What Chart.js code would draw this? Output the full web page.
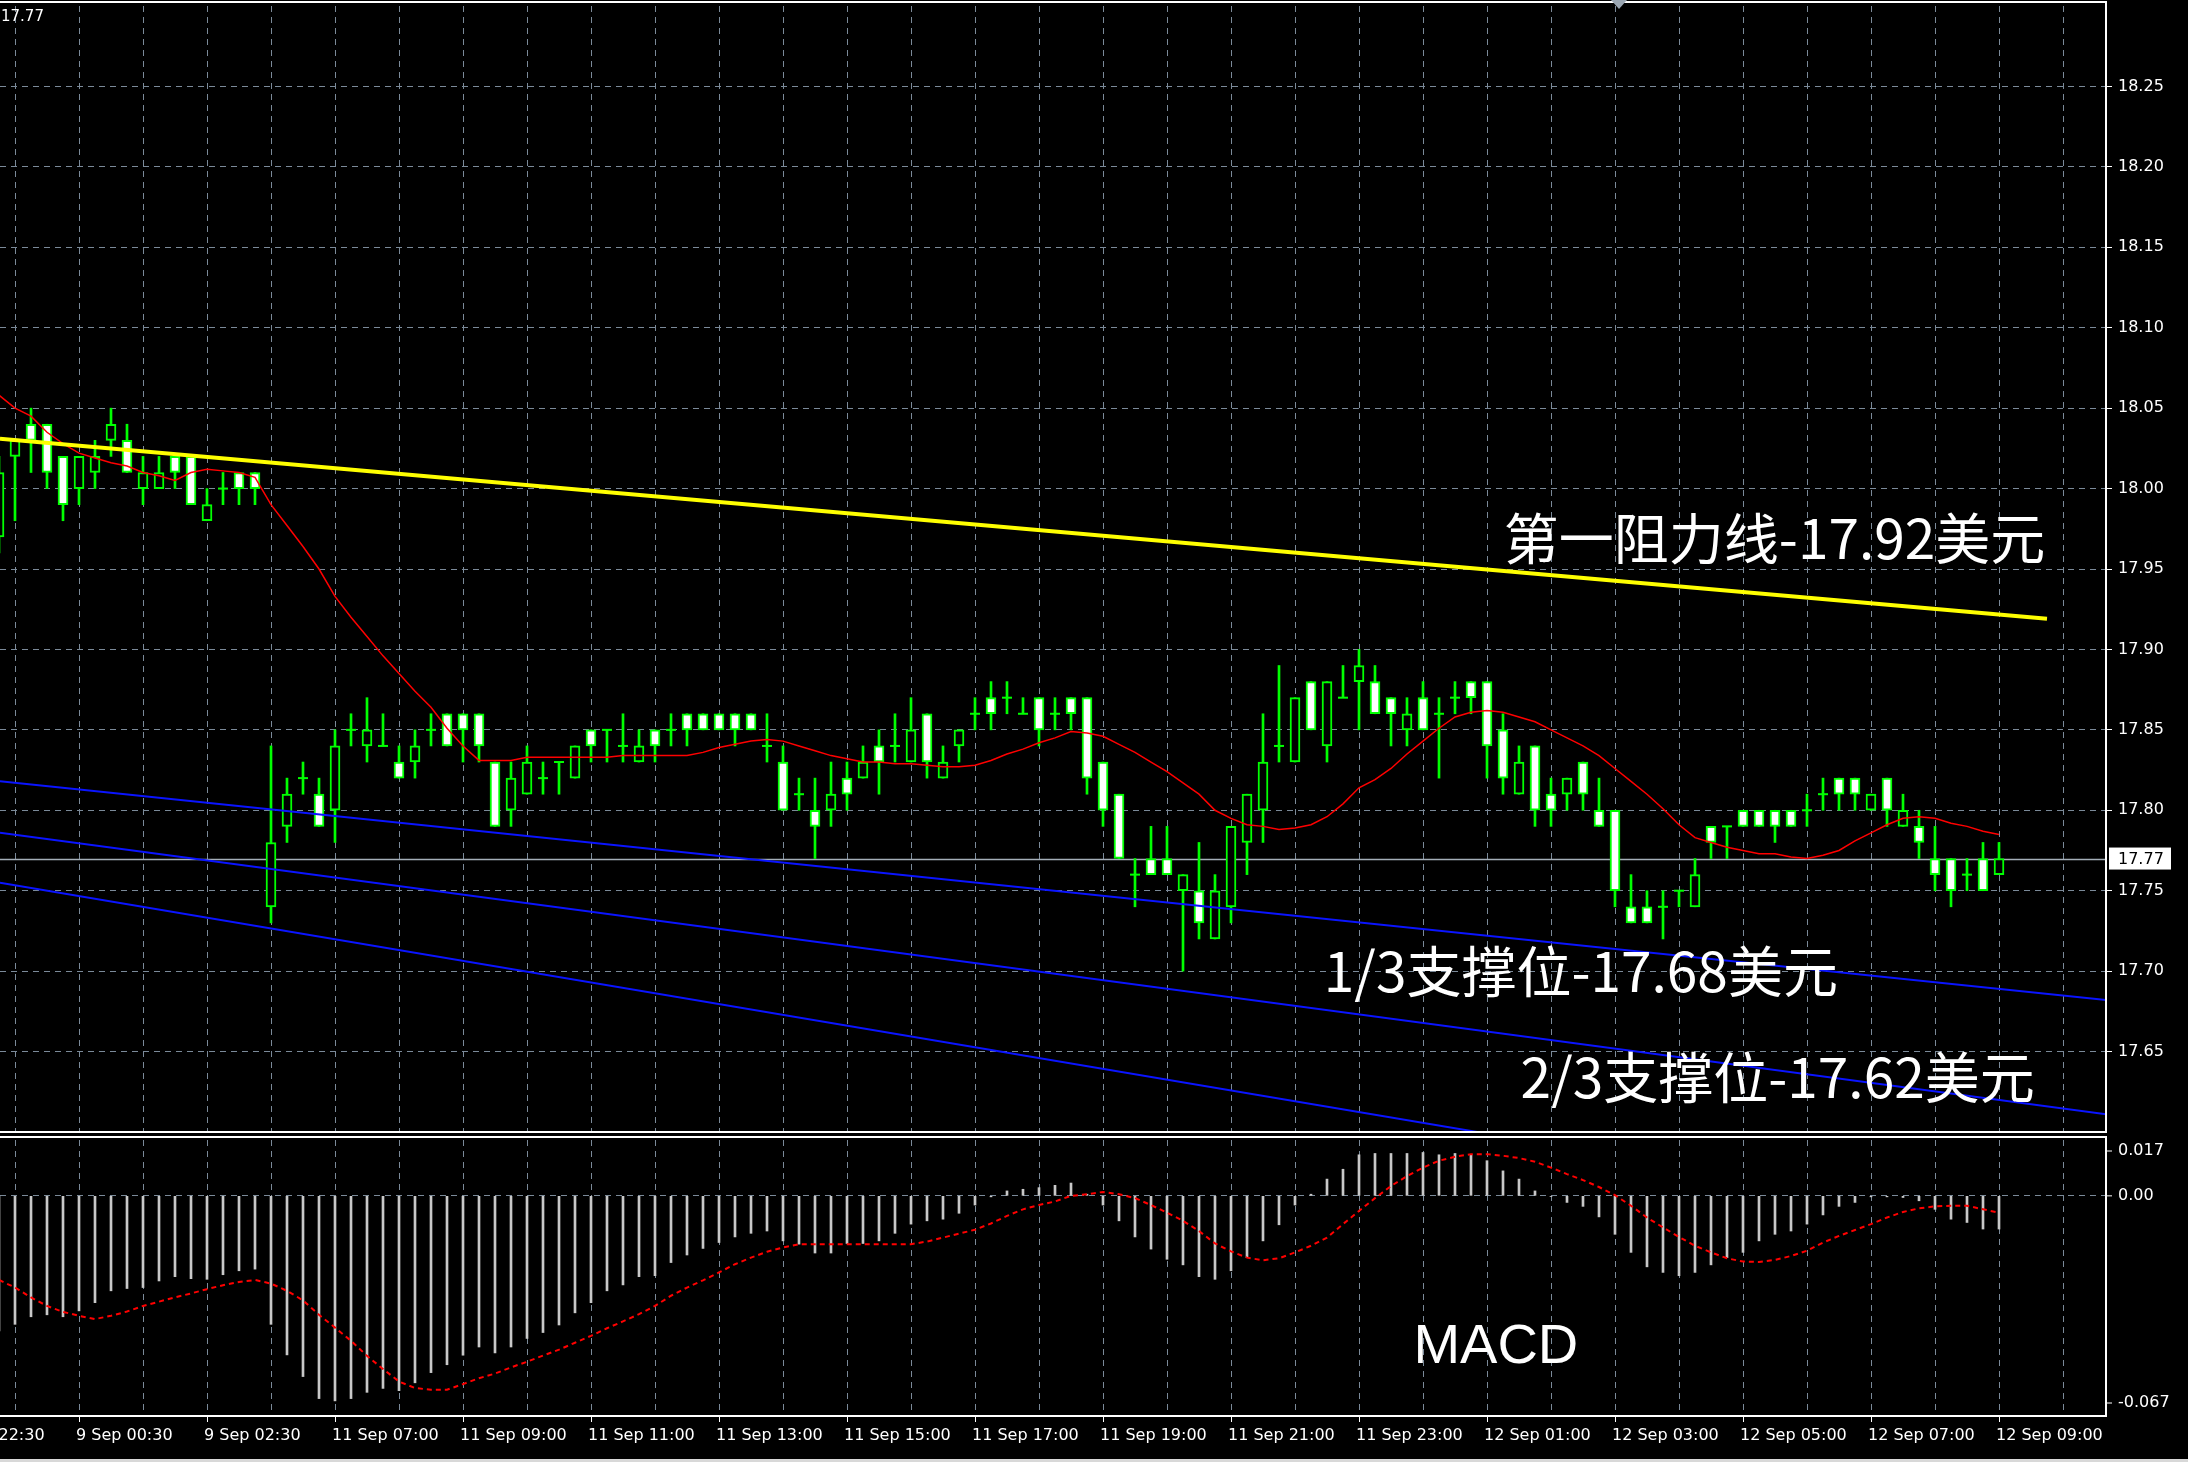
<!DOCTYPE html>
<html>
<head>
<meta charset="utf-8">
<title>XAG 15m</title>
<script src="https://cdn.jsdelivr.net/npm/chart.js@4.4.0/dist/chart.umd.min.js"></script>
<style>
  body { margin: 0; background: #000; width: 2188px; height: 1462px; overflow: hidden; position: relative; }
  #price-chart { position: absolute; left: 0; top: 0; }
  #macd-chart { position: absolute; left: 0; top: 1134px; }
  #edge { position: absolute; left: 0; top: 1459px; width: 2188px; height: 3px; background: #d8d8d8; }
</style>
</head>
<body>
<canvas id="price-chart" width="2188" height="1135"></canvas>
<canvas id="macd-chart" width="2188" height="328"></canvas>
<div id="edge"></div>
<script>
// bar numbers: first bar is -1 (half cut off at the left edge), last bar is 124
const FIRST_BAR = -1;

// time axis labels, one every 8 bars starting at bar -4
const timeLabels = [
    '8 Sep 22:30', '9 Sep 00:30', '9 Sep 02:30', '11 Sep 07:00', '11 Sep 09:00',
    '11 Sep 11:00', '11 Sep 13:00', '11 Sep 15:00', '11 Sep 17:00', '11 Sep 19:00',
    '11 Sep 21:00', '11 Sep 23:00', '12 Sep 01:00', '12 Sep 03:00', '12 Sep 05:00',
    '12 Sep 07:00', '12 Sep 09:00'
];

const openPrices = [
    17.97,
    18.02, 18.04, 18.04, 18.02, 18.00, 18.01, 18.03, 18.03, 18.00, 18.00,
    18.02, 18.02, 17.98, 18.00, 18.01, 18.01, 17.74, 17.79, 17.82, 17.81,
    17.80, 17.85, 17.84, 17.84, 17.83, 17.83, 17.85, 17.86, 17.86, 17.86,
    17.83, 17.80, 17.81, 17.82, 17.83, 17.82, 17.85, 17.85, 17.84, 17.83,
    17.85, 17.85, 17.86, 17.86, 17.86, 17.86, 17.86, 17.84, 17.83, 17.81,
    17.80, 17.80, 17.82, 17.82, 17.84, 17.84, 17.83, 17.86, 17.82, 17.84,
    17.86, 17.87, 17.87, 17.86, 17.87, 17.86, 17.87, 17.87, 17.83, 17.81,
    17.76, 17.77, 17.77, 17.75, 17.75, 17.72, 17.74, 17.78, 17.80, 17.84,
    17.83, 17.88, 17.84, 17.87, 17.88, 17.88, 17.87, 17.85, 17.87, 17.86,
    17.87, 17.88, 17.88, 17.85, 17.81, 17.84, 17.81, 17.81, 17.83, 17.80,
    17.80, 17.74, 17.74, 17.74, 17.75, 17.74, 17.79, 17.79, 17.80, 17.80,
    17.80, 17.80, 17.80, 17.81, 17.82, 17.82, 17.80, 17.82, 17.79, 17.79,
    17.77, 17.77, 17.76, 17.77, 17.76
];
const highPrices = [
    18.02,
    18.03, 18.05, 18.04, 18.02, 18.02, 18.03, 18.05, 18.04, 18.02, 18.02,
    18.02, 18.02, 18.00, 18.01, 18.01, 18.01, 17.84, 17.82, 17.83, 17.82,
    17.85, 17.86, 17.87, 17.86, 17.84, 17.85, 17.86, 17.86, 17.86, 17.86,
    17.83, 17.83, 17.84, 17.83, 17.83, 17.84, 17.85, 17.85, 17.86, 17.85,
    17.85, 17.86, 17.86, 17.86, 17.86, 17.86, 17.86, 17.86, 17.84, 17.82,
    17.82, 17.83, 17.83, 17.84, 17.85, 17.86, 17.87, 17.86, 17.84, 17.85,
    17.87, 17.88, 17.88, 17.87, 17.87, 17.87, 17.87, 17.87, 17.83, 17.81,
    17.77, 17.79, 17.79, 17.76, 17.78, 17.76, 17.79, 17.81, 17.86, 17.89,
    17.87, 17.88, 17.88, 17.89, 17.90, 17.89, 17.87, 17.87, 17.88, 17.87,
    17.88, 17.88, 17.88, 17.86, 17.84, 17.84, 17.82, 17.82, 17.83, 17.82,
    17.80, 17.76, 17.75, 17.75, 17.75, 17.77, 17.79, 17.79, 17.80, 17.80,
    17.80, 17.80, 17.81, 17.82, 17.82, 17.82, 17.81, 17.82, 17.81, 17.80,
    17.79, 17.77, 17.77, 17.78, 17.78
];
const lowPrices = [
    17.96,
    17.98, 18.01, 18.00, 17.98, 17.99, 18.00, 18.02, 18.01, 17.99, 18.00,
    18.00, 17.99, 17.98, 17.99, 17.99, 17.99, 17.73, 17.78, 17.81, 17.79,
    17.78, 17.84, 17.83, 17.84, 17.82, 17.82, 17.84, 17.84, 17.83, 17.83,
    17.79, 17.79, 17.81, 17.81, 17.81, 17.82, 17.83, 17.83, 17.83, 17.83,
    17.83, 17.84, 17.84, 17.85, 17.85, 17.84, 17.85, 17.83, 17.80, 17.80,
    17.77, 17.79, 17.80, 17.82, 17.81, 17.83, 17.83, 17.82, 17.82, 17.83,
    17.85, 17.85, 17.86, 17.86, 17.84, 17.85, 17.85, 17.81, 17.79, 17.77,
    17.74, 17.76, 17.76, 17.70, 17.72, 17.72, 17.73, 17.76, 17.78, 17.83,
    17.83, 17.85, 17.83, 17.87, 17.85, 17.86, 17.84, 17.84, 17.85, 17.82,
    17.86, 17.86, 17.82, 17.81, 17.81, 17.79, 17.79, 17.80, 17.80, 17.79,
    17.74, 17.73, 17.73, 17.72, 17.74, 17.74, 17.77, 17.77, 17.79, 17.79,
    17.78, 17.79, 17.79, 17.80, 17.80, 17.80, 17.80, 17.79, 17.79, 17.77,
    17.75, 17.74, 17.75, 17.75, 17.76
];
const closePrices = [
    18.01,
    18.03, 18.03, 18.01, 17.99, 18.02, 18.02, 18.04, 18.01, 18.01, 18.01,
    18.01, 17.99, 17.99, 18.00, 18.00, 18.00, 17.78, 17.81, 17.82, 17.79,
    17.84, 17.85, 17.85, 17.84, 17.82, 17.84, 17.85, 17.84, 17.85, 17.84,
    17.79, 17.82, 17.83, 17.82, 17.83, 17.84, 17.84, 17.85, 17.84, 17.84,
    17.84, 17.85, 17.85, 17.85, 17.85, 17.85, 17.85, 17.84, 17.80, 17.81,
    17.79, 17.81, 17.81, 17.83, 17.83, 17.84, 17.85, 17.83, 17.83, 17.85,
    17.86, 17.86, 17.87, 17.86, 17.85, 17.86, 17.86, 17.82, 17.80, 17.77,
    17.76, 17.76, 17.76, 17.76, 17.73, 17.75, 17.79, 17.81, 17.83, 17.84,
    17.87, 17.85, 17.88, 17.87, 17.89, 17.86, 17.86, 17.86, 17.85, 17.86,
    17.87, 17.87, 17.84, 17.82, 17.83, 17.80, 17.80, 17.82, 17.81, 17.79,
    17.75, 17.73, 17.73, 17.74, 17.75, 17.76, 17.78, 17.79, 17.79, 17.79,
    17.79, 17.79, 17.80, 17.81, 17.81, 17.81, 17.81, 17.80, 17.80, 17.78,
    17.76, 17.75, 17.76, 17.75, 17.77
];

// red moving average
const maValues = [
    18.058,
    18.050, 18.045, 18.035, 18.028, 18.022, 18.019, 18.016, 18.014, 18.010, 18.008,
    18.005, 18.010, 18.012, 18.011, 18.010, 18.007, 17.990, 17.977, 17.964, 17.950,
    17.933, 17.920, 17.908, 17.896, 17.885, 17.874, 17.864, 17.851, 17.840, 17.831,
    17.831, 17.831, 17.833, 17.833, 17.833, 17.833, 17.833, 17.833, 17.834, 17.834,
    17.834, 17.834, 17.834, 17.836, 17.839, 17.841, 17.843, 17.844, 17.843, 17.840,
    17.837, 17.834, 17.832, 17.830, 17.830, 17.829, 17.829, 17.828, 17.827, 17.827,
    17.828, 17.831, 17.835, 17.838, 17.842, 17.845, 17.849, 17.848, 17.846, 17.841,
    17.836, 17.830, 17.824, 17.817, 17.810, 17.800, 17.795, 17.791, 17.790, 17.788,
    17.789, 17.791, 17.796, 17.804, 17.814, 17.819, 17.826, 17.835, 17.843, 17.851,
    17.858, 17.861, 17.862, 17.861, 17.858, 17.855, 17.850, 17.845, 17.840, 17.834,
    17.826, 17.818, 17.810, 17.801, 17.791, 17.783, 17.780, 17.777, 17.775, 17.773,
    17.773, 17.771, 17.770, 17.772, 17.775, 17.781, 17.786, 17.791, 17.795, 17.796,
    17.795, 17.792, 17.790, 17.787, 17.785
];

// MACD histogram and signal line
const macdHist = [
    -0.0411,
    -0.0391, -0.0368, -0.0362, -0.0368, -0.0350, -0.0325, -0.0289, -0.0282, -0.0279, -0.0259,
    -0.0246, -0.0252, -0.0254, -0.0240, -0.0228, -0.0223, -0.0391, -0.0484, -0.0550, -0.0617,
    -0.0624, -0.0617, -0.0598, -0.0586, -0.0593, -0.0569, -0.0538, -0.0514, -0.0485, -0.0460,
    -0.0478, -0.0460, -0.0434, -0.0416, -0.0393, -0.0356, -0.0325, -0.0289, -0.0271, -0.0246,
    -0.0243, -0.0203, -0.0180, -0.0160, -0.0142, -0.0125, -0.0114, -0.0107, -0.0137, -0.0147,
    -0.0174, -0.0174, -0.0145, -0.0145, -0.0137, -0.0114, -0.0086, -0.0076, -0.0071, -0.0053,
    -0.0028, -0.0003, 0.0015, 0.0020, 0.0025, 0.0032, 0.0039, 0.0005, -0.0028, -0.0076,
    -0.0125, -0.0162, -0.0193, -0.0210, -0.0246, -0.0254, -0.0228, -0.0188, -0.0137, -0.0088,
    -0.0028, 0.0005, 0.0051, 0.0081, 0.0125, 0.0129, 0.0129, 0.0129, 0.0132, 0.0125,
    0.0129, 0.0125, 0.0107, 0.0076, 0.0051, 0.0015, -0.0002, -0.0020, -0.0032, -0.0064,
    -0.0117, -0.0172, -0.0216, -0.0233, -0.0243, -0.0233, -0.0210, -0.0188, -0.0172, -0.0137,
    -0.0117, -0.0107, -0.0086, -0.0058, -0.0032, -0.0020, -0.0003, -0.0003, -0.0005, -0.0015,
    -0.0041, -0.0071, -0.0081, -0.0101, -0.0101
];
const macdSignal = [
    -0.0256,
    -0.0279, -0.0309, -0.0335, -0.0353, -0.0365, -0.0375, -0.0365, -0.0352, -0.0335, -0.0322,
    -0.0309, -0.0297, -0.0284, -0.0272, -0.0262, -0.0256, -0.0267, -0.0289, -0.0318, -0.0362,
    -0.0401, -0.0441, -0.0487, -0.0527, -0.0565, -0.0585, -0.0590, -0.0590, -0.0573, -0.0555,
    -0.0541, -0.0522, -0.0505, -0.0486, -0.0468, -0.0447, -0.0426, -0.0403, -0.0382, -0.0360,
    -0.0335, -0.0304, -0.0279, -0.0257, -0.0233, -0.0208, -0.0188, -0.0170, -0.0157, -0.0147,
    -0.0147, -0.0147, -0.0147, -0.0147, -0.0147, -0.0147, -0.0147, -0.0139, -0.0127, -0.0115,
    -0.0103, -0.0084, -0.0061, -0.0041, -0.0028, -0.0017, 0.0000, 0.0005, 0.0012, 0.0005,
    -0.0007, -0.0028, -0.0051, -0.0076, -0.0107, -0.0145, -0.0169, -0.0188, -0.0196, -0.0190,
    -0.0172, -0.0152, -0.0127, -0.0086, -0.0046, -0.0007, 0.0030, 0.0060, 0.0086, 0.0107,
    0.0119, 0.0127, 0.0127, 0.0122, 0.0115, 0.0104, 0.0086, 0.0066, 0.0048, 0.0027,
    0.0002, -0.0030, -0.0066, -0.0096, -0.0125, -0.0152, -0.0172, -0.0190, -0.0200, -0.0201,
    -0.0195, -0.0183, -0.0167, -0.0142, -0.0122, -0.0104, -0.0086, -0.0066, -0.0049, -0.0038,
    -0.0032, -0.0030, -0.0030, -0.0041, -0.0051
];

const priceTicks = [17.65, 17.70, 17.75, 17.80, 17.85, 17.90, 17.95, 18.00, 18.05, 18.10, 18.15, 18.20, 18.25];
const macdTicks = [0.017, 0, -0.067];

// trend lines drawn on the chart: [bar, price] at both ends
const resistanceLine = [[-0.94, 18.031], [127, 17.919]];
const supportLines = [
    [[-0.94, 17.818], [130.7, 17.682]],
    [[-0.94, 17.786], [130.7, 17.611]],
    [[-0.94, 17.755], [130.7, 17.534]]
];

const notes = ['第一阻力线-17.92美元', '1/3支撑位-17.68美元', '2/3支撑位-17.62美元'];

const GRID = '#7b8a99';
const GREEN = '#00ff00';
const X_MIN = -0.9375;
const X_MAX = 130.6875;

Chart.defaults.font.family = "'DejaVu Sans', sans-serif";
Chart.defaults.animation = false;

const bars = openPrices.map((o, k) => ({
    x: FIRST_BAR + k, o: o, h: highPrices[k], l: lowPrices[k], c: closePrices[k]
}));
const lastClose = closePrices[closePrices.length - 1];

// vertical grid every 4 bars
const gridBars = [];
for (let b = -4; b <= 128; b += 4) gridBars.push(b);

function timeLabel(v) {
    return (v + 4) % 8 === 0 ? (timeLabels[(v + 4) / 8] || '') : '';
}

function toPoints(pairs) {
    return pairs.map(p => ({ x: p[0], y: p[1] }));
}

function drawFrame(chart, topShift) {
    const { ctx, chartArea: a } = chart;
    ctx.save();
    ctx.strokeStyle = '#ffffff';
    ctx.lineWidth = 2;
    ctx.beginPath();
    ctx.moveTo(0, a.top + topShift);
    ctx.lineTo(a.right, a.top + topShift);
    ctx.lineTo(a.right, a.bottom);
    ctx.lineTo(0, a.bottom);
    ctx.stroke();
    ctx.restore();
}

const priceDecor = {
    id: 'priceDecor',
    beforeDatasetsDraw(chart) {
        const { ctx, chartArea: a, scales: { y } } = chart;
        const py = Math.round(y.getPixelForValue(lastClose)) + 0.5;
        ctx.save();
        ctx.strokeStyle = '#a4aeb8';
        ctx.lineWidth = 1.5;
        ctx.beginPath();
        ctx.moveTo(a.left, py);
        ctx.lineTo(a.right, py);
        ctx.stroke();
        ctx.restore();
    },
    afterDatasetsDraw(chart) {
        const { ctx, scales: { x, y } } = chart;
        ctx.save();
        ctx.fillStyle = '#ffffff';
        ctx.textBaseline = 'middle';
        ctx.font = "55px 'Noto Sans CJK SC', sans-serif";
        ctx.fillText(notes[0], x.getPixelForValue(93.05), y.getPixelForValue(17.969));
        ctx.fillText(notes[1], x.getPixelForValue(81.8), y.getPixelForValue(17.700));
        ctx.fillText(notes[2], x.getPixelForValue(94.1), y.getPixelForValue(17.634));
        ctx.restore();
    },
    afterDraw(chart) {
        const { ctx, chartArea: a, scales: { x, y } } = chart;
        drawFrame(chart, -4);

        // current price box on the axis
        const py = y.getPixelForValue(lastClose);
        ctx.save();
        ctx.fillStyle = '#ffffff';
        ctx.fillRect(a.right + 3, py - 11, 62, 22);
        ctx.fillStyle = '#000000';
        ctx.font = "16px 'DejaVu Sans'";
        ctx.textBaseline = 'middle';
        ctx.fillText(lastClose.toFixed(2), a.right + 12, py + 1);

        // price in the top left corner
        ctx.fillStyle = '#ffffff';
        ctx.font = "15px 'DejaVu Sans'";
        ctx.fillText(lastClose.toFixed(2), 1, 17);

        // chart shift marker
        const sx = x.getPixelForValue(100.25);
        ctx.fillStyle = '#9aa6b2';
        ctx.beginPath();
        ctx.moveTo(sx - 8, 0);
        ctx.lineTo(sx + 8, 0);
        ctx.lineTo(sx, 9);
        ctx.closePath();
        ctx.fill();
        ctx.restore();
    }
};

const macdDecor = {
    id: 'macdDecor',
    afterDraw(chart) {
        const { ctx, chartArea: a, scales: { x, y } } = chart;
        drawFrame(chart, -3);
        ctx.save();
        ctx.fillStyle = '#ffffff';
        ctx.strokeStyle = '#ffffff';
        ctx.font = "16px 'DejaVu Sans'";
        ctx.textBaseline = 'middle';
        macdTicks.forEach(v => {
            let py = y.getPixelForValue(v);
            if (v === y.max) py = a.top + 11;
            if (v === y.min) py = a.bottom - 13;
            ctx.beginPath();
            ctx.moveTo(a.right, py);
            ctx.lineTo(a.right + 6, py);
            ctx.stroke();
            ctx.fillText(v === 0 ? '0.00' : String(v), a.right + 12, py);
        });
        ctx.font = "56px 'Liberation Sans', sans-serif";
        ctx.fillText('MACD', x.getPixelForValue(87.4), y.getPixelForValue(-0.0462));
        ctx.restore();
    }
};

const xScale = (withLabels, height) => ({
    type: 'linear',
    bounds: 'data',
    min: X_MIN,
    max: X_MAX,
    offset: false,
    afterBuildTicks: s => { s.ticks = gridBars.map(v => ({ value: v })); },
    afterFit: s => { s.height = height; s.paddingLeft = 0; s.paddingRight = 0; },
    ticks: {
        display: withLabels,
        autoSkip: false,
        maxRotation: 0,
        minRotation: 0,
        align: 'start',
        labelOffset: -3,
        padding: 4,
        color: '#ffffff',
        font: { size: 16 },
        callback: v => timeLabel(v)
    },
    grid: {
        offset: false,
        color: GRID,
        lineWidth: 1,
        drawTicks: withLabels,
        tickLength: 6,
        tickColor: c => (c.tick && c.tick.label ? '#ffffff' : 'rgba(0,0,0,0)'),
        tickBorderDash: []
    },
    border: { display: false, dash: [6, 5] }
});

new Chart(document.getElementById('price-chart'), {
    type: 'bar',
    data: {
        datasets: [
            {
                label: 'wicks',
                order: 6,
                grouped: false,
                barThickness: 2,
                backgroundColor: GREEN,
                data: bars.map(b => ({ x: b.x, y: [b.l, b.h] }))
            },
            {
                label: 'bodies',
                order: 5,
                grouped: false,
                barThickness: 10,
                borderWidth: 2,
                borderSkipped: false,
                borderColor: GREEN,
                backgroundColor: c => (c.raw && c.raw.up ? '#000000' : '#ffffff'),
                data: bars.filter(b => b.o !== b.c).map(b => ({
                    x: b.x, y: [Math.min(b.o, b.c), Math.max(b.o, b.c)], up: b.c > b.o
                }))
            },
            {
                type: 'line',
                label: 'doji',
                order: 4,
                showLine: false,
                pointStyle: 'line',
                pointRadius: 5,
                pointBorderWidth: 2,
                pointBorderColor: GREEN,
                data: bars.filter(b => b.o === b.c).map(b => ({ x: b.x, y: b.c }))
            },
            {
                type: 'line',
                label: 'MA',
                order: 3,
                borderColor: '#ff0000',
                borderWidth: 1.5,
                pointRadius: 0,
                data: maValues.map((v, k) => ({ x: FIRST_BAR + k, y: v }))
            },
            ...supportLines.map((line, k) => ({
                type: 'line',
                label: 'support ' + (k + 1),
                order: 2,
                borderColor: '#0a14ff',
                borderWidth: 2,
                pointRadius: 0,
                data: toPoints(line)
            })),
            {
                type: 'line',
                label: 'resistance',
                order: 1,
                borderColor: '#ffff00',
                borderWidth: 4,
                pointRadius: 0,
                data: toPoints(resistanceLine)
            }
        ]
    },
    options: {
        responsive: false,
        devicePixelRatio: 1,
        events: [],
        layout: { autoPadding: false, padding: { top: 6, bottom: 3, left: 0, right: 0 } },
        plugins: { legend: { display: false }, tooltip: { enabled: false } },
        scales: {
            x: xScale(false, 0),
            y: {
                type: 'linear',
                bounds: 'data',
                position: 'right',
                min: 17.6,
                max: 18.3,
                beginAtZero: false,
                afterBuildTicks: s => { s.ticks = priceTicks.map(v => ({ value: v })); },
                afterFit: s => { s.width = 82; s.paddingTop = 0; s.paddingBottom = 0; },
                ticks: {
                    color: '#ffffff',
                    font: { size: 16 },
                    padding: 6,
                    callback: v => v.toFixed(2)
                },
                grid: {
                    color: GRID,
                    lineWidth: 1,
                    drawTicks: true,
                    tickLength: 6,
                    tickColor: '#ffffff',
                    tickBorderDash: []
                },
                border: { display: false, dash: [6, 5] }
            }
        }
    },
    plugins: [priceDecor]
});

new Chart(document.getElementById('macd-chart'), {
    type: 'bar',
    data: {
        datasets: [
            {
                label: 'MACD',
                order: 2,
                grouped: false,
                barThickness: 2,
                backgroundColor: '#c8c8c8',
                data: macdHist.map((v, k) => ({ x: FIRST_BAR + k, y: v }))
            },
            {
                type: 'line',
                label: 'Signal',
                order: 1,
                borderColor: '#ff0000',
                borderWidth: 2,
                borderDash: [5, 4],
                pointRadius: 0,
                data: macdSignal.map((v, k) => ({ x: FIRST_BAR + k, y: v }))
            }
        ]
    },
    options: {
        responsive: false,
        devicePixelRatio: 1,
        events: [],
        layout: { autoPadding: false, padding: { top: 6, bottom: 0, left: 0, right: 0 } },
        plugins: { legend: { display: false }, tooltip: { enabled: false } },
        scales: {
            x: xScale(true, 46),
            y: {
                type: 'linear',
                bounds: 'data',
                position: 'right',
                min: -0.067,
                max: 0.017,
                beginAtZero: false,
                afterBuildTicks: s => { s.ticks = macdTicks.map(v => ({ value: v })); },
                afterFit: s => { s.width = 82; s.paddingTop = 0; s.paddingBottom = 0; },
                ticks: { display: false },
                grid: {
                    color: c => (c.tick && c.tick.value === 0 ? GRID : 'rgba(0,0,0,0)'),
                    lineWidth: 1,
                    drawTicks: false
                },
                border: { display: false, dash: [6, 5] }
            }
        }
    },
    plugins: [macdDecor]
});
</script>
</body>
</html>
